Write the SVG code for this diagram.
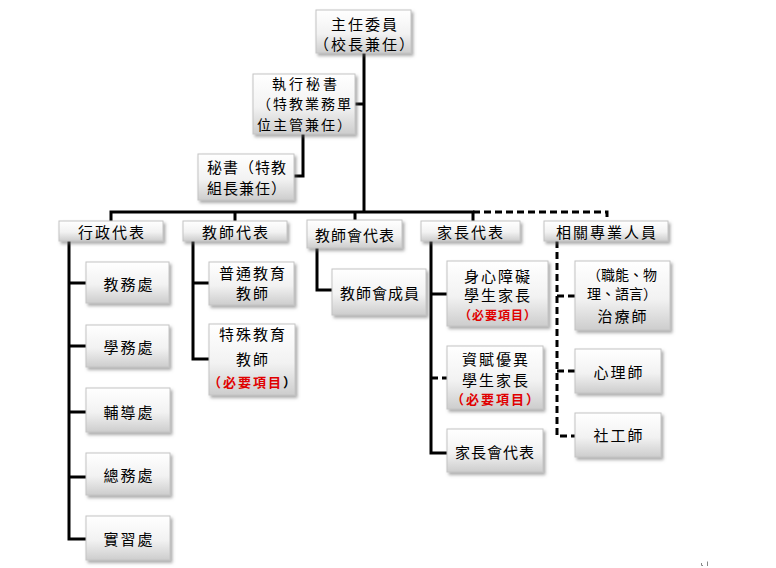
<svg xmlns="http://www.w3.org/2000/svg" width="776" height="568" viewBox="0 0 776 568">
<defs>
<linearGradient id="g" x1="0" y1="0" x2="0" y2="1">
<stop offset="0" stop-color="#ffffff"/>
<stop offset="0.55" stop-color="#f2f2f2"/>
<stop offset="1" stop-color="#cdcdcd"/>
</linearGradient>
<filter id="sh" x="-10%" y="-10%" width="130%" height="140%">
<feDropShadow dx="2" dy="2.5" stdDeviation="1.5" flood-color="#666" flood-opacity="0.55"/>
</filter>
</defs>
<style>
.box{fill:url(#g);stroke:#c4c4c4;stroke-width:1;filter:url(#sh)}
text{font-family:"Noto Sans CJK TC","Noto Sans CJK SC",sans-serif;font-size:15px;fill:#000;text-anchor:middle;dominant-baseline:central;letter-spacing:2px}
.r{fill:#e00000;font-weight:bold;font-size:12px;letter-spacing:1px}
.e{font-size:14px}
.ln{fill:none;stroke:#000;stroke-width:3}
.ds{fill:none;stroke:#000;stroke-width:3;stroke-dasharray:7 4}
</style>
<rect width="776" height="568" fill="#fff"/>
<g id="connectors">
<path class="ln" d="M364 53V212M355 104H364M303 134V176H294"/>
<path class="ln" d="M111 221V212H473V221M235 212V221M355 212V220"/>
<path class="ds" d="M473 212H607V221"/>
<path class="ln" d="M69 241V539H86M69 283H86M69 346H86M69 412H86M69 477H86"/>
<path class="ln" d="M193 241V359H209M193 283H209"/>
<path class="ln" d="M317 248V290H332"/>
<path class="ln" d="M431 241V453H447M431 294H447"/>
<path class="ds" d="M431 378H447"/>
<path class="ds" d="M557 241V436H575M557 296H575M557 371H575"/>
</g>
<g id="n_chair"><rect class="box" x="316" y="10" width="95" height="43"/><text x="365" y="23">主任委員</text><text x="365" y="43">（校長兼任）</text></g>
<g id="n_exec"><rect class="box" x="253" y="74" width="102" height="60"/><text class="e" x="306" y="83" style="letter-spacing:3px">執行秘書</text><text class="e" x="305" y="103">（特教業務單</text><text class="e" x="305" y="123.5">位主管兼任）</text></g>
<g id="n_sec"><rect class="box" x="198" y="154" width="96" height="46"/><text x="247" y="166" style="letter-spacing:1px">秘書（特教</text><text x="247" y="187" style="letter-spacing:1px">組長兼任）</text></g>
<g id="n_admin"><rect class="box" x="59" y="221" width="104" height="20"/><text x="112" y="231">行政代表</text></g>
<g id="n_teacher"><rect class="box" x="183" y="221" width="104" height="20"/><text x="236" y="231">教師代表</text></g>
<g id="n_union"><rect class="box" x="307" y="220" width="95" height="28"/><text x="355" y="234" style="letter-spacing:1px">教師會代表</text></g>
<g id="n_parent"><rect class="box" x="421" y="221" width="99" height="20"/><text x="471" y="231">家長代表</text></g>
<g id="n_pro"><rect class="box" x="544" y="221" width="124" height="20"/><text x="607" y="231">相關專業人員</text></g>
<g id="n_a1"><rect class="box" x="86" y="262" width="83" height="41"/><text x="129" y="283">教務處</text></g>
<g id="n_a2"><rect class="box" x="86" y="325" width="83" height="42"/><text x="129" y="346">學務處</text></g>
<g id="n_a3"><rect class="box" x="86" y="388" width="84" height="44"/><text x="129" y="411">輔導處</text></g>
<g id="n_a4"><rect class="box" x="86" y="453" width="84" height="42"/><text x="129" y="474">總務處</text></g>
<g id="n_a5"><rect class="box" x="86" y="516" width="84" height="44"/><text x="129" y="538">實習處</text></g>
<g id="n_t1"><rect class="box" x="209" y="262" width="85" height="43"/><text x="253" y="272">普通教育</text><text x="253" y="292">教師</text></g>
<g id="n_t2"><rect class="box" x="209" y="324" width="86" height="71"/><text x="253" y="333">特殊教育</text><text x="253" y="358">教師</text><text x="253" y="381" class="r" style="font-size:13px;letter-spacing:2px">（必要項目<tspan style="fill:#000">）</tspan></text></g>
<g id="n_u1"><rect class="box" x="332" y="269" width="94" height="46"/><text x="380" y="292" style="letter-spacing:1px">教師會成員</text></g>
<g id="n_p1"><rect class="box" x="447" y="261" width="101" height="65"/><text x="498" y="275">身心障礙</text><text x="498" y="294">學生家長</text><text x="498" y="314" class="r">（必要項目）</text></g>
<g id="n_p2"><rect class="box" x="447" y="346" width="96" height="63"/><text x="496" y="358">資賦優異</text><text x="496" y="379">學生家長</text><text x="496" y="398" class="r" style="font-size:13px;letter-spacing:2px">（必要項目）</text></g>
<g id="n_p3"><rect class="box" x="447" y="429" width="96" height="43"/><text x="495" y="451" style="letter-spacing:1px">家長會代表</text></g>
<g id="n_r1"><rect class="box" x="575" y="261" width="95" height="69"/><text x="622" y="274" style="font-size:14px;letter-spacing:0px">（職能、物</text><text x="622" y="293" style="font-size:14px;letter-spacing:0px">理、語言）</text><text x="623" y="315">治療師</text></g>
<g id="n_r2"><rect class="box" x="575" y="349" width="86" height="44"/><text x="619" y="371">心理師</text></g>
<g id="n_r3"><rect class="box" x="575" y="413" width="86" height="44"/><text x="619" y="434">社工師</text></g>
<path d="M701.5 563V565.5H703M707.5 561.5V566" stroke="#888" stroke-width="1" fill="none"/>
</svg>
